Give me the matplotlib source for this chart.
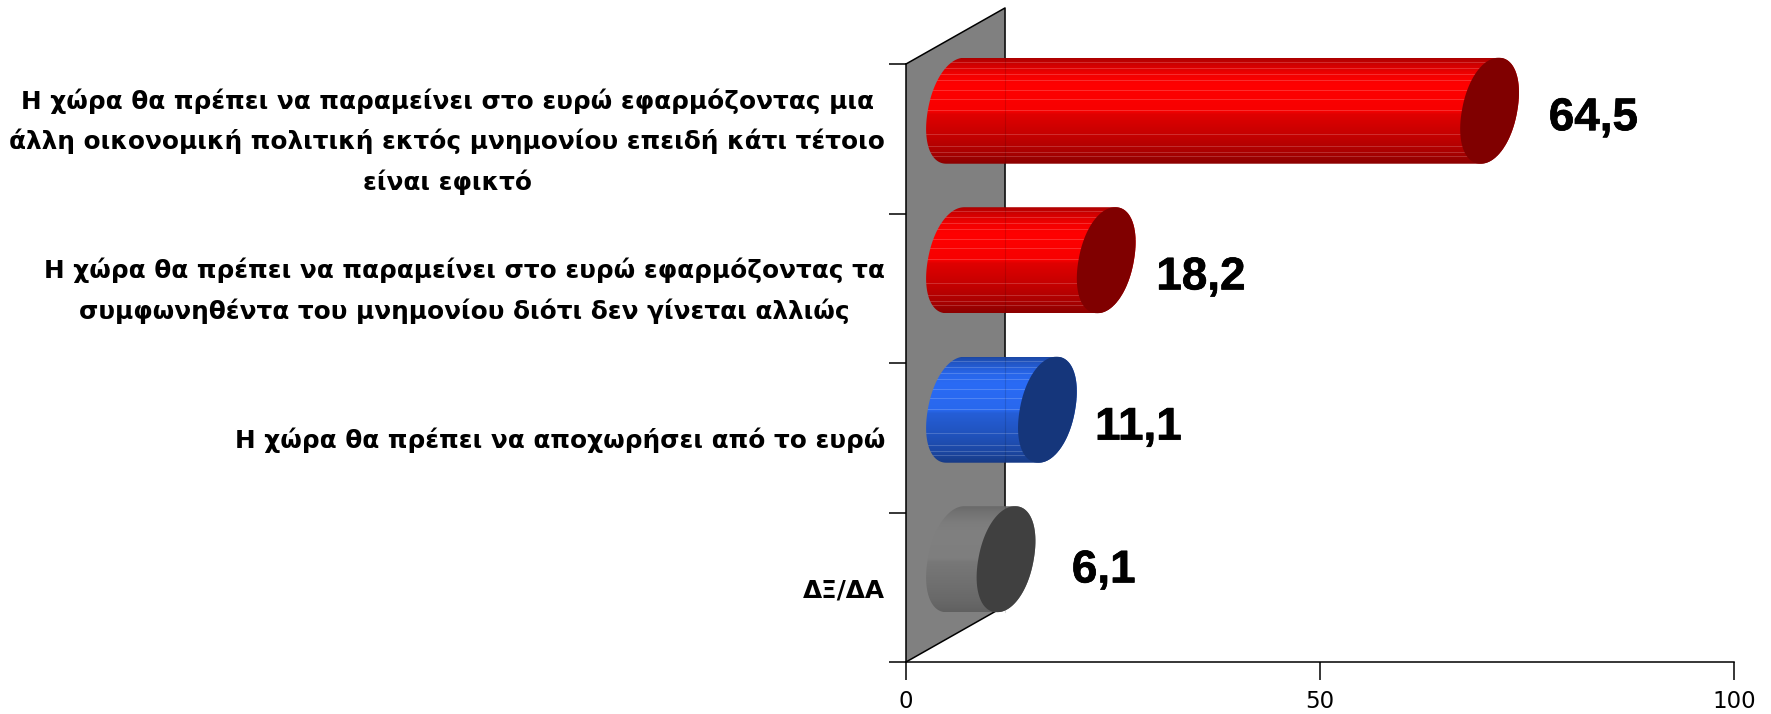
import numpy as np
import matplotlib
matplotlib.use("Agg")
import matplotlib.pyplot as plt
import matplotlib.patheffects as pe
from matplotlib.patches import Polygon

categories = [
    "Η χώρα θα πρέπει να παραμείνει στο ευρώ εφαρμόζοντας μια\nάλλη οικονομική πολιτική εκτός μνημονίου επειδή κάτι τέτοιο\nείναι εφικτό",
    "Η χώρα θα πρέπει να παραμείνει στο ευρώ εφαρμόζοντας τα\nσυμφωνηθέντα του μνημονίου διότι δεν γίνεται αλλιώς",
    "Η χώρα θα πρέπει να αποχωρήσει από το ευρώ",
    "ΔΞ/ΔΑ",
]
values = [64.5, 18.2, 11.1, 6.1]
value_labels = ["64,5", "18,2", "11,1", "6,1"]
x_ticks = [0, 50, 100]

# layout and style (separate from the data)
colors = ["#ff0000", "#ff0000", "#2a6bf5", "#808080"]
label_gap = [3.5, 2.4, 2.1, 4.3]       # value-label gap after the cap, x units
label_dy = [0.05, 0.115, 0.12, 0.075]  # value-label shift from the bar centre, category units
DX, DY = 11.96, 0.375                  # 3-D depth of the wall
A, K, B = 3.35, 1.09, 0.3545           # cap ellipse and its shear
P = 0.95                               # superellipse exponent of the cap outline
SW, SH = 1771, 714
L, R, T, Bm = 906, 1734, 64, 662

plt.rcParams["font.family"] = ["DejaVu Sans"]
fig = plt.figure(figsize=(SW / 100, SH / 100), dpi=100, facecolor="white")
ax = fig.add_axes([L / SW, 1 - Bm / SH, (R - L) / SW, (Bm - T) / SH])
ax.set_xlim(0, 100)
ax.set_ylim(4, 0)
for s in ("top", "right"):
    ax.spines[s].set_visible(False)
for s in ("left", "bottom"):
    ax.spines[s].set_linewidth(1.1)
    ax.spines[s].set_zorder(1)

# tilted wall
wall = Polygon([(0, 0), (DX, -DY), (DX, 4 - DY), (0, 4)], closed=True, fc="#808080",
               ec="none", clip_on=False, zorder=0.5)
ax.add_patch(wall)
ax.plot([0, DX, DX, 0], [0, -DY, 4 - DY, 4], color="black", lw=1.1, clip_on=False, zorder=0.6)

# brightness profile across a cylinder, top to bottom
prof_pos = [0.0, 0.05, 0.15, 0.25, 0.5, 0.53, 0.75, 0.9, 1.0]
prof_val = [0.68, 0.80, 0.95, 1.0, 0.97, 0.88, 0.76, 0.66, 0.55]
rows = 106
pos = np.linspace(0, 1, rows)
bright = np.interp(pos, prof_pos, prof_val)
streak = np.zeros(rows)
streak[[4, 10, 16, 22, 32, 41, 52, 76, 88, 94, 98]] = 0.18


def ellipse(cx, cy, t0, t1, n=90):
    t = np.radians(np.linspace(t0, t1, n))
    c = np.sign(np.cos(t)) * np.abs(np.cos(t)) ** P
    s = np.sign(np.sin(t)) * np.abs(np.sin(t)) ** P
    return np.column_stack([cx + A * c + K * s, cy - B * s])


for i, (v, c) in enumerate(zip(values, colors)):
    cy = i + 0.5 - DY / 2
    x0 = DX / 2
    x1 = v + DX / 2
    rgb = np.array(matplotlib.colors.to_rgb(c))
    b = bright if c != "#808080" else 0.45 + 0.55 * bright
    img = b[:, None] * rgb
    if c != "#808080":
        img = img + streak[:, None] * (1 - img)
    im = ax.imshow(img[:, None, :], extent=(x0 - A - K, x1 + A + K, cy + B, cy - B),
                   aspect="auto", interpolation="nearest", zorder=2)
    body = Polygon(np.vstack([ellipse(x0, cy, 90, 270), ellipse(x1, cy, 270, 450)]),
                   closed=True, transform=ax.transData)
    im.set_clip_path(body)
    im.set_clip_box(fig.bbox)
    # the wall's edge shows faintly through the bar
    if x1 > DX:
        ax.plot([DX, DX], [cy - B, cy + B], color="black", lw=0.8, alpha=0.12,
                clip_on=False, zorder=2.1)
    ax.add_patch(Polygon(ellipse(x1, cy, 0, 360), closed=True, fc=rgb * 0.5, ec="none",
                         clip_on=False, zorder=3))
    ax.text(x1 + A + 0.3 + label_gap[i], cy + label_dy[i], value_labels[i],
            fontsize=33, fontweight="bold", family="Liberation Sans", va="center", ha="left",
            clip_on=False, zorder=4,
            path_effects=[pe.withStroke(linewidth=0.5, foreground="black")])

ax.set_xlim(0, 100)
ax.set_ylim(4, 0)
ax.set_xticks(x_ticks)
ax.set_xticklabels([str(t) for t in x_ticks], fontsize=16.5)
ax.tick_params(axis="x", length=13, width=1.1, pad=7)
ax.set_yticks(range(5))
ax.set_yticklabels([])
ax.tick_params(axis="y", length=12.2, width=1.1)
for i, c in enumerate(categories):
    ax.annotate(c, xy=(0, i + 0.5), xycoords=("data", "data"), xytext=(-15, -2.1),
                textcoords="offset points", ha="right", va="center", ma="center",
                fontsize=17.8, fontweight="bold", linespacing=1.75)

fig.savefig("out.png", dpi=100)
